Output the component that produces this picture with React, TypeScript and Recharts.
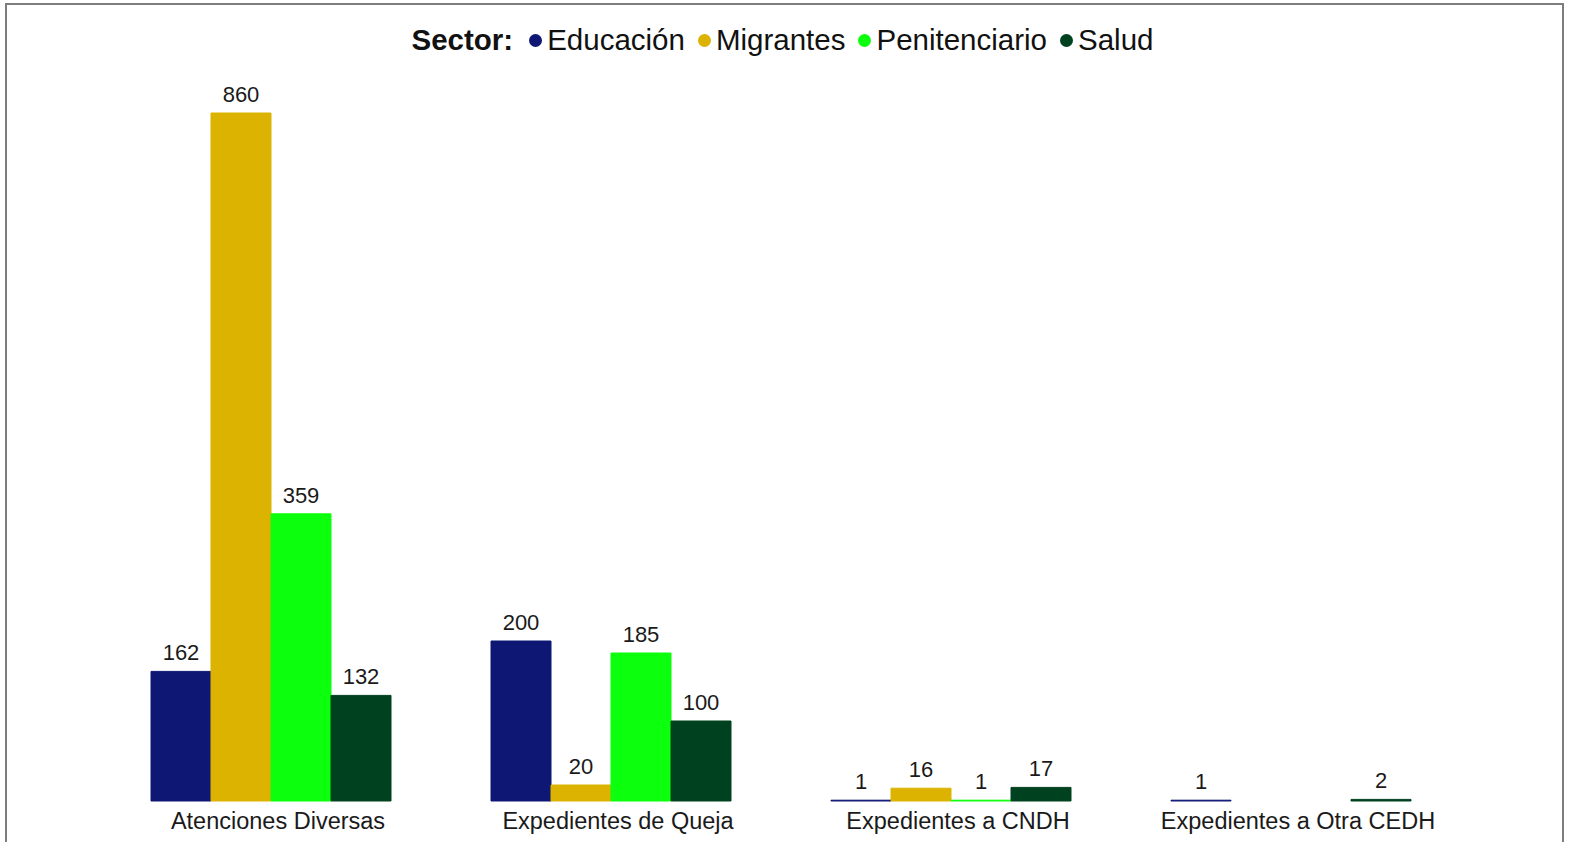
import React from 'react';
import { BarChart, Bar, XAxis, YAxis, Legend, LabelList } from 'recharts';

const categories = [
  'Atenciones Diversas',
  'Expedientes de Queja',
  'Expedientes a CNDH',
  'Expedientes a Otra CEDH',
];

const educacion = [162, 200, 1, 1];
const migrantes = [860, 20, 16, null];
const penitenciario = [359, 185, 1, null];
const salud = [132, 100, 17, 2];

const sectors = [
  { key: 'Educación', values: educacion, color: '#0e1874' },
  { key: 'Migrantes', values: migrantes, color: '#dbb300' },
  { key: 'Penitenciario', values: penitenciario, color: '#0cff0c' },
  { key: 'Salud', values: salud, color: '#00421f' },
];

const chartData = categories.map((name, i) => {
  const row: any = { name };
  sectors.forEach(s => {
    row[s.key] = s.values[i];
  });
  return row;
});

const FONT = '"Liberation Sans", Arial, sans-serif';

const SectorLegend = () => (
  <div
    style={{
      height: 103,
      boxSizing: 'border-box',
      paddingTop: 13,
      display: 'flex',
      justifyContent: 'center',
      alignItems: 'flex-start',
      fontFamily: FONT,
      fontSize: 29.5,
      color: '#111',
      paddingLeft: 16,
    }}
  >
    <div style={{ display: 'flex', alignItems: 'center', height: 34, lineHeight: '34px' }}>
      <span style={{ fontWeight: 'bold', marginRight: 16 }}>Sector:</span>
      {sectors.map(s => (
        <span key={s.key} style={{ display: 'flex', alignItems: 'center', marginRight: 13 }}>
          <span
            style={{
              width: 13,
              height: 13,
              borderRadius: '50%',
              background: s.color,
              display: 'inline-block',
              marginRight: 5,
            }}
          />
          {s.key}
        </span>
      ))}
    </div>
  </div>
);

export default function App() {
  return (
    <div
      style={{
        position: 'fixed',
        left: 0,
        top: 0,
        width: 1573,
        height: 842,
        overflow: 'hidden',
        background: '#fff',
      }}
    >
      <div
        style={{
          position: 'absolute',
          left: 5,
          top: 3,
          width: 1555,
          height: 900,
          border: '2px solid #7d7d7d',
        }}
      />
      <div style={{ position: 'absolute', left: 0, top: 0 }}>
        <BarChart
          width={1573}
          height={842}
          data={chartData}
          margin={{ top: 10, right: 112, left: 101, bottom: 11 }}
          barCategoryGap={50}
          barGap={0}
        >
          <Legend verticalAlign="top" content={<SectorLegend />} />
          <YAxis hide domain={[0, 860]} />
          <XAxis
            dataKey="name"
            height={30}
            axisLine={false}
            tickLine={false}
            tickMargin={5}
            interval={0}
            tick={{ fill: '#1a1a1a', fontSize: 23.5, fontFamily: FONT, dx: 7 }}
          />
          {sectors.map(s => (
            <Bar
              key={s.key}
              dataKey={s.key}
              fill={s.color}
              stroke={s.color}
              strokeWidth={1}
              isAnimationActive={false}
            >
              <LabelList
                dataKey={s.key}
                position="top"
                offset={11}
                style={{ fill: '#1a1a1a', fontSize: 22, fontFamily: FONT }}
              />
            </Bar>
          ))}
        </BarChart>
      </div>
    </div>
  );
}
